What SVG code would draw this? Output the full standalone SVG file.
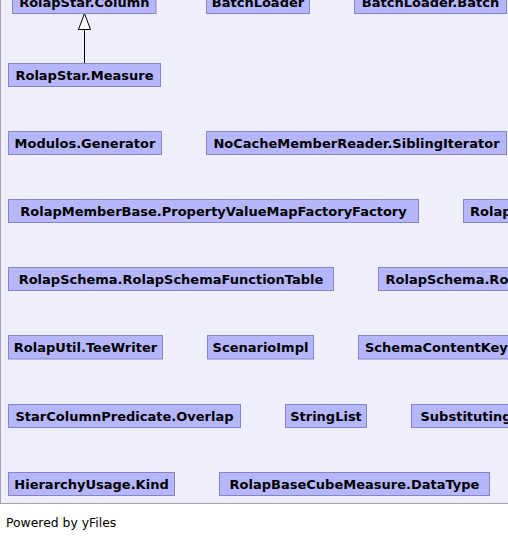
<svg xmlns="http://www.w3.org/2000/svg" width="508" height="539" viewBox="0 0 508 539">
<style>
.bg{fill:#EFEFFC;stroke:#A3A3B3;stroke-width:1}
.n rect{fill:#B6B6FC;stroke:#8585C4;stroke-width:1}
.n text{font-family:"DejaVu Sans",sans-serif;font-weight:bold;font-size:13px;fill:#000}
.c{text-anchor:middle}
.e{stroke:#000;stroke-width:1;fill:none}
.foot{font-family:"DejaVu Sans",sans-serif;font-size:12.4px;fill:#000}
</style>
<rect class="bg" x="0.5" y="-2" width="510" height="505.5"/>
<g id="edges">
<line class="e" x1="84.5" y1="63.5" x2="84.5" y2="29.5"/>
<polygon points="84.5,13.5 78.5,29.5 90.5,29.5" fill="#fff" stroke="#000" stroke-width="1"/>
</g>
<g id="n1" class="n"><rect x="12.5" y="-9.5" width="143.5" height="23"/><text class="c" x="84.3" y="6.5">RolapStar.Column</text></g>
<g id="n2" class="n"><rect x="206.5" y="-9.5" width="103" height="23"/><text class="c" x="258" y="6.5">BatchLoader</text></g>
<g id="n3" class="n"><rect x="354.5" y="-9.5" width="152" height="23"/><text class="c" x="430.5" y="6.5">BatchLoader.Batch</text></g>
<g id="n4" class="n"><rect x="8.5" y="63.5" width="152" height="23"/><text class="c" x="84.5" y="79.5">RolapStar.Measure</text></g>
<g id="n5" class="n"><rect x="8.5" y="131.5" width="153" height="23"/><text class="c" x="85" y="147.7">Modulos.Generator</text></g>
<g id="n6" class="n"><rect x="206.5" y="131.5" width="300" height="23"/><text class="c" x="356.5" y="147.7">NoCacheMemberReader.SiblingIterator</text></g>
<g id="n7" class="n"><rect x="8.5" y="199.5" width="410" height="23"/><text class="c" x="213.5" y="215.7">RolapMemberBase.PropertyValueMapFactoryFactory</text></g>
<g id="n8" class="n"><rect x="463.5" y="199.5" width="80" height="23"/><text x="470" y="215.7">Rolap</text></g>
<g id="n9" class="n"><rect x="8.5" y="267.5" width="325" height="23"/><text class="c" x="171" y="283.7">RolapSchema.RolapSchemaFunctionTable</text></g>
<g id="n10" class="n"><rect x="378.5" y="267.5" width="160" height="23"/><text x="385.5" y="283.7">RolapSchema.Ro</text></g>
<g id="n11" class="n"><rect x="8.5" y="335.5" width="154" height="23.5"/><text class="c" x="85.5" y="352">RolapUtil.TeeWriter</text></g>
<g id="n12" class="n"><rect x="207.5" y="335.5" width="106" height="23.5"/><text class="c" x="260.5" y="352">ScenarioImpl</text></g>
<g id="n13" class="n"><rect x="358.5" y="335.5" width="170" height="23.5"/><text x="365" y="352">SchemaContentKey</text></g>
<g id="n14" class="n"><rect x="8.5" y="404.5" width="232" height="23"/><text class="c" x="124.5" y="420.7">StarColumnPredicate.Overlap</text></g>
<g id="n15" class="n"><rect x="285.5" y="404.5" width="81" height="23"/><text class="c" x="326" y="420.7">StringList</text></g>
<g id="n16" class="n"><rect x="411.5" y="404.5" width="120" height="23"/><text x="420.5" y="420.7">Substituting</text></g>
<g id="n17" class="n"><rect x="8.5" y="472.5" width="166" height="23"/><text class="c" x="91.5" y="488.7">HierarchyUsage.Kind</text></g>
<g id="n18" class="n"><rect x="219.5" y="472.5" width="270" height="23"/><text class="c" x="354.5" y="488.7">RolapBaseCubeMeasure.DataType</text></g>
<text class="foot" x="6" y="527">Powered by yFiles</text>
</svg>
